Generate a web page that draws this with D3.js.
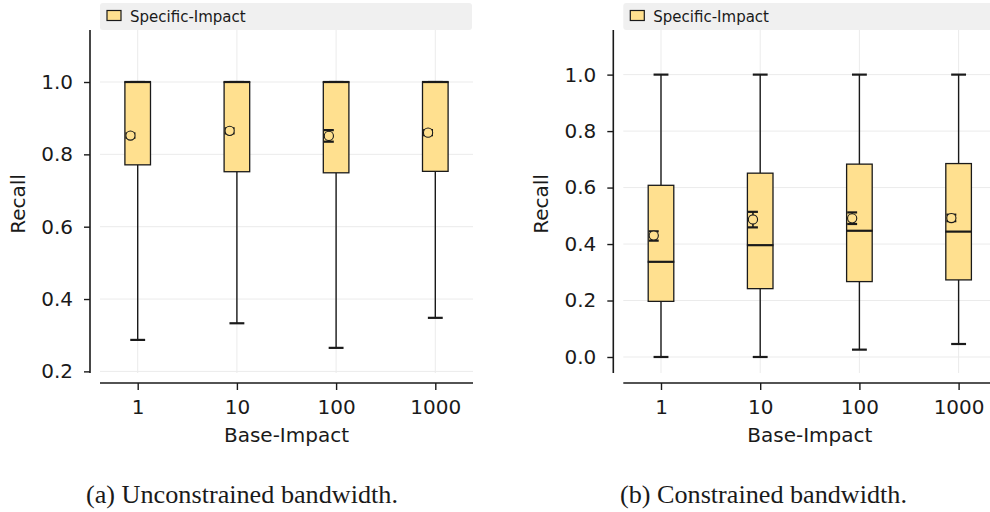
<!DOCTYPE html>
<html>
<head>
<meta charset="utf-8">
<script src="https://cdn.jsdelivr.net/npm/d3@7"></script>
<style>
  html, body { margin: 0; padding: 0; background: #fff; }
  svg { display: block; }
</style>
</head>
<body>
<svg id="chart" width="990" height="512"></svg>
<script>
// ---------- data ----------
const categories = ["1", "10", "100", "1000"];
const seriesName = "Specific-Impact";

// (a) Unconstrained bandwidth
const aWhiskerLow  = [0.287, 0.333, 0.265, 0.348];
const aQ1          = [0.771, 0.752, 0.749, 0.753];
const aMedian      = [1.0, 1.0, 1.0, 1.0];
const aQ3          = [1.0, 1.0, 1.0, 1.0];
const aWhiskerHigh = [1.0, 1.0, 1.0, 1.0];
const aMean        = [0.852, 0.865, 0.851, 0.860];
const aMeanLow     = [0.846, 0.858, 0.835, 0.853];
const aMeanHigh    = [0.858, 0.872, 0.867, 0.867];
const aTicks       = [0.2, 0.4, 0.6, 0.8, 1.0];

// (b) Constrained bandwidth
const bWhiskerLow  = [0.0, 0.0, 0.026, 0.046];
const bQ1          = [0.197, 0.242, 0.267, 0.273];
const bMedian      = [0.337, 0.396, 0.447, 0.444];
const bQ3          = [0.608, 0.651, 0.683, 0.685];
const bWhiskerHigh = [1.0, 1.0, 1.0, 1.0];
const bMean        = [0.430, 0.487, 0.491, 0.492];
const bMeanLow     = [0.412, 0.459, 0.471, 0.481];
const bMeanHigh    = [0.445, 0.514, 0.512, 0.504];
const bTicks       = [0.0, 0.2, 0.4, 0.6, 0.8, 1.0];

const captions = ["(a) Unconstrained bandwidth.", "(b) Constrained bandwidth."];

// ---------- styling ----------
const boxFill = "#ffe08f";
const ink = "#1a1a1a";
const gridColor = "#ebebeb";
const font = "DejaVu Sans, sans-serif";

const svg = d3.select("#chart");

function rows(wl, q1, med, q3, wh, mean, ml, mh) {
  return categories.map((c, i) => ({
    cat: c, idx: i, wl: wl[i], q1: q1[i], med: med[i], q3: q3[i], wh: wh[i],
    mean: mean[i], ml: ml[i], mh: mh[i]
  }));
}

const panels = [
  { left: 100, top: 30, width: 373, height: 343, yDomain: [0.1955, 1.1438], ticks: aTicks,
    data: rows(aWhiskerLow, aQ1, aMedian, aQ3, aWhiskerHigh, aMean, aMeanLow, aMeanHigh),
    ylabelX: 18, caption: captions[0], capX: 86, capW: 312 },
  { left: 623.3, top: 30, width: 373, height: 343, yDomain: [-0.0567, 1.158], ticks: bTicks,
    data: rows(bWhiskerLow, bQ1, bMedian, bQ3, bWhiskerHigh, bMean, bMeanLow, bMeanHigh),
    ylabelX: 541, caption: captions[1], capX: 620, capW: 287 }
];

panels.forEach(p => {
  const g = svg.append("g");
  const x = d3.scaleLinear().domain([-0.38, 3.38]).range([p.left, p.left + p.width]);
  const y = d3.scaleLinear().domain(p.yDomain).range([p.top + p.height, p.top]);
  const unit = x(1) - x(0);

  // gridlines
  g.append("g").selectAll("line.hg").data(p.ticks).join("line")
    .attr("x1", p.left).attr("x2", p.left + p.width)
    .attr("y1", d => y(d)).attr("y2", d => y(d))
    .attr("stroke", gridColor).attr("stroke-width", 1);
  g.append("g").selectAll("line.vg").data(categories).join("line")
    .attr("x1", (d, i) => x(i)).attr("x2", (d, i) => x(i))
    .attr("y1", p.top).attr("y2", p.top + p.height)
    .attr("stroke", gridColor).attr("stroke-width", 1);

  // legend
  const lg = g.append("g");
  lg.append("rect").attr("x", p.left).attr("y", 3).attr("width", p.width - 1).attr("height", 27)
    .attr("rx", 3).attr("fill", "#f0f0f0");
  lg.append("rect").attr("x", p.left + 7).attr("y", 10.5).attr("width", 14).attr("height", 10)
    .attr("fill", boxFill).attr("stroke", ink).attr("stroke-width", 1.2);
  lg.append("text").attr("x", p.left + 30).attr("y", 21.5).text(seriesName)
    .attr("font-family", font).attr("font-size", 15).attr("fill", ink);

  // y axis
  const yAxis = d3.axisLeft(y).tickValues(p.ticks).tickFormat(d3.format(".1f")).tickSize(6).tickPadding(11);
  const ya = g.append("g").attr("transform", `translate(${p.left - 10},0)`).call(yAxis);
  ya.select(".domain").attr("d", `M0,${p.top}V${p.top + p.height}`).attr("stroke", ink).attr("stroke-width", 1.6);
  ya.selectAll(".tick line").attr("stroke", ink).attr("stroke-width", 1.4);
  ya.selectAll(".tick text").attr("font-family", font).attr("font-size", 20).attr("fill", ink);

  // x axis
  const xAxis = d3.axisBottom(x).tickValues(d3.range(categories.length)).tickFormat(i => categories[i]).tickSize(7).tickPadding(10);
  const xa = g.append("g").attr("transform", `translate(0,${p.top + p.height + 10})`).call(xAxis);
  xa.select(".domain").attr("d", `M${p.left},0H${p.left + p.width}`).attr("stroke", ink).attr("stroke-width", 1.6);
  xa.selectAll(".tick line").attr("stroke", ink).attr("stroke-width", 1.4);
  xa.selectAll(".tick text").attr("font-family", font).attr("font-size", 20).attr("fill", ink);

  // axis labels
  g.append("text").attr("x", p.left + p.width / 2).attr("y", 442)
    .attr("text-anchor", "middle").attr("font-family", font).attr("font-size", 20).attr("fill", ink)
    .text("Base-Impact");
  g.append("text").attr("transform", `translate(${p.ylabelX + 7},204) rotate(-90)`)
    .attr("text-anchor", "middle").attr("font-family", font).attr("font-size", 20).attr("fill", ink)
    .text("Recall");

  // boxes
  const bw = 0.258 * unit, cw = 0.15 * unit, mw = 0.1 * unit, off = -0.073;
  const bg = g.append("g");
  const b = bg.selectAll("g.box").data(p.data).join("g");
  // whiskers
  b.append("line").attr("x1", d => x(d.idx)).attr("x2", d => x(d.idx))
    .attr("y1", d => y(d.q1)).attr("y2", d => y(d.wl)).attr("stroke", ink).attr("stroke-width", 1.4);
  b.append("line").attr("x1", d => x(d.idx)).attr("x2", d => x(d.idx))
    .attr("y1", d => y(d.q3)).attr("y2", d => y(d.wh)).attr("stroke", ink).attr("stroke-width", 1.4);
  b.append("line").attr("x1", d => x(d.idx) - cw / 2).attr("x2", d => x(d.idx) + cw / 2)
    .attr("y1", d => y(d.wl)).attr("y2", d => y(d.wl)).attr("stroke", ink).attr("stroke-width", 2.2);
  b.append("line").attr("x1", d => x(d.idx) - cw / 2).attr("x2", d => x(d.idx) + cw / 2)
    .attr("y1", d => y(d.wh)).attr("y2", d => y(d.wh)).attr("stroke", ink).attr("stroke-width", 2.2);
  // box
  b.append("rect").attr("x", d => x(d.idx) - bw / 2).attr("width", bw)
    .attr("y", d => y(d.q3)).attr("height", d => y(d.q1) - y(d.q3))
    .attr("fill", boxFill).attr("stroke", ink).attr("stroke-width", 1.3);
  // median
  b.append("line").attr("x1", d => x(d.idx) - bw / 2 - 0.5).attr("x2", d => x(d.idx) + bw / 2 + 0.5)
    .attr("y1", d => y(d.med)).attr("y2", d => y(d.med)).attr("stroke", ink).attr("stroke-width", 2.2);
  // mean error bar
  b.append("line").attr("x1", d => x(d.idx + off)).attr("x2", d => x(d.idx + off))
    .attr("y1", d => y(d.ml)).attr("y2", d => y(d.mh)).attr("stroke", ink).attr("stroke-width", 1.6);
  b.append("line").attr("x1", d => x(d.idx + off) - mw / 2).attr("x2", d => x(d.idx + off) + mw / 2)
    .attr("y1", d => y(d.ml)).attr("y2", d => y(d.ml)).attr("stroke", ink).attr("stroke-width", 2.2);
  b.append("line").attr("x1", d => x(d.idx + off) - mw / 2).attr("x2", d => x(d.idx + off) + mw / 2)
    .attr("y1", d => y(d.mh)).attr("y2", d => y(d.mh)).attr("stroke", ink).attr("stroke-width", 2.2);
  // mean marker
  b.append("circle").attr("cx", d => x(d.idx + off)).attr("cy", d => y(d.mean)).attr("r", 4.6)
    .attr("fill", boxFill).attr("stroke", ink).attr("stroke-width", 1.1);

  // caption
  g.append("text").attr("x", p.capX).attr("y", 503).text(p.caption)
    .attr("font-family", "Liberation Serif, serif").attr("font-size", 25).attr("fill", ink)
    .attr("textLength", p.capW).attr("lengthAdjust", "spacingAndGlyphs");
});
</script>
</body>
</html>
